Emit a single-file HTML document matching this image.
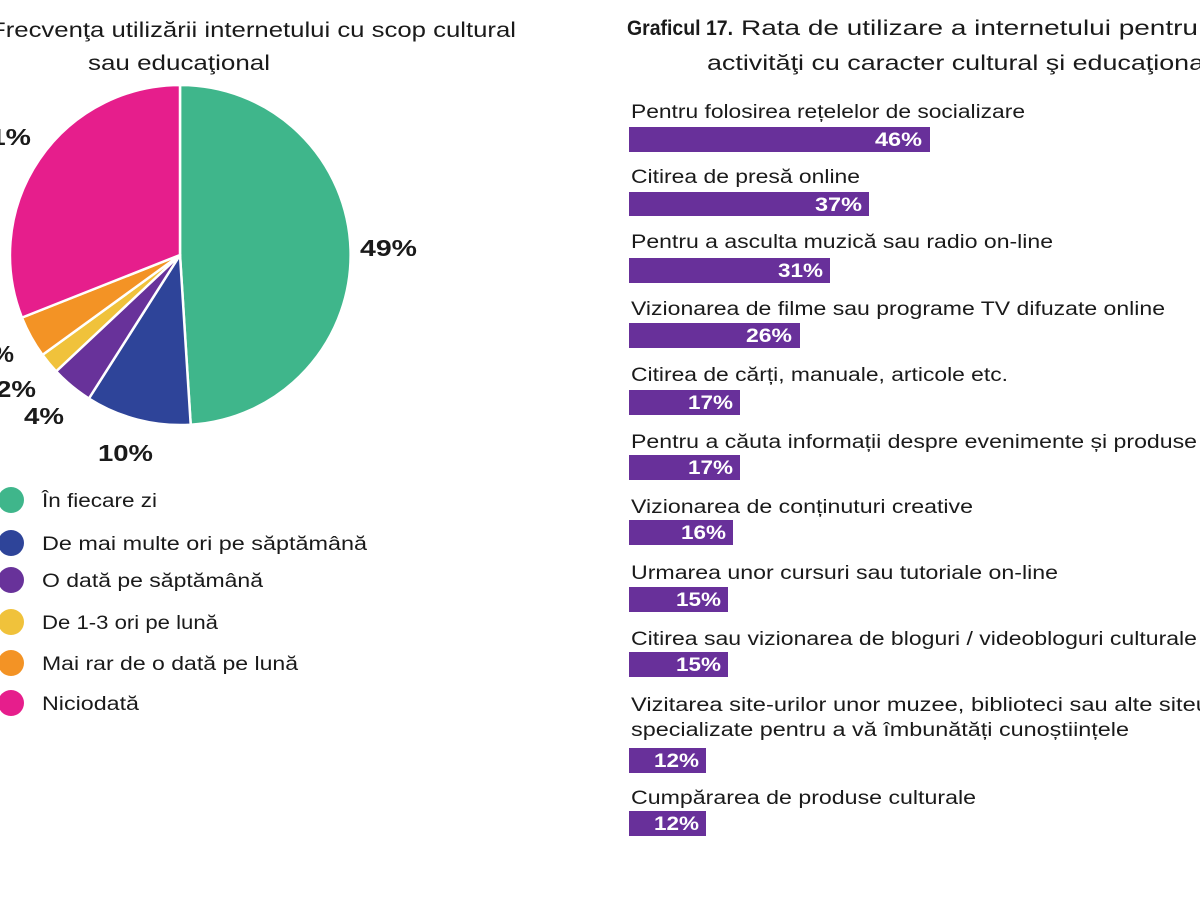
<!DOCTYPE html>
<html><head><meta charset="utf-8"><style>
html,body{margin:0;padding:0;background:#fff;width:1200px;height:900px;overflow:hidden}
svg text{font-family:"Liberation Sans",sans-serif}
.d{fill:#1a1a1a}
.w{fill:#fff}
</style></head><body>
<svg width="1200" height="900" viewBox="0 0 1200 900" xmlns="http://www.w3.org/2000/svg">
<text class="d" x="-10" y="37" font-size="21" textLength="526" lengthAdjust="spacingAndGlyphs">Frecvenţa utilizării internetului cu scop cultural</text>
<text class="d" x="88" y="70" font-size="21" textLength="182" lengthAdjust="spacingAndGlyphs">sau educaţional</text>
<g stroke="#fff" stroke-width="2.5" stroke-linejoin="round">
<path d="M180,255 L180,85 A170,170 0 0 1 190.7,424.7 Z" fill="#3fb68b"/>
<path d="M180,255 L190.7,424.7 A170,170 0 0 1 88.9,398.5 Z" fill="#2e4499"/>
<path d="M180,255 L88.9,398.5 A170,170 0 0 1 56.1,371.4 Z" fill="#68329a"/>
<path d="M180,255 L56.1,371.4 A170,170 0 0 1 42.5,354.9 Z" fill="#f0c23b"/>
<path d="M180,255 L42.5,354.9 A170,170 0 0 1 21.9,317.6 Z" fill="#f39325"/>
<path d="M180,255 L21.9,317.6 A170,170 0 0 1 180,85 Z" fill="#e61e8c"/>
</g>
<g font-size="23" font-weight="bold" class="d">
<text class="d" x="360" y="256" textLength="57" lengthAdjust="spacingAndGlyphs">49%</text>
<text class="d" x="98" y="461" textLength="55" lengthAdjust="spacingAndGlyphs">10%</text>
<text class="d" x="24" y="424" textLength="40" lengthAdjust="spacingAndGlyphs">4%</text>
<text class="d" x="-4" y="397" textLength="40" lengthAdjust="spacingAndGlyphs">2%</text>
<text class="d" x="-8" y="362" textLength="22" lengthAdjust="spacingAndGlyphs">%</text>
<text class="d" x="-26" y="145" textLength="57" lengthAdjust="spacingAndGlyphs">31%</text>
</g>
<g font-size="19" class="d">
<circle cx="11" cy="500" r="13" fill="#3fb68b"/><text class="d" x="42" y="507" textLength="115" lengthAdjust="spacingAndGlyphs">În fiecare zi</text>
<circle cx="11" cy="543" r="13" fill="#2e4499"/><text class="d" x="42" y="550" textLength="325" lengthAdjust="spacingAndGlyphs">De mai multe ori pe săptămână</text>
<circle cx="11" cy="580" r="13" fill="#68329a"/><text class="d" x="42" y="587" textLength="221" lengthAdjust="spacingAndGlyphs">O dată pe săptămână</text>
<circle cx="11" cy="622" r="13" fill="#f0c23b"/><text class="d" x="42" y="629" textLength="176" lengthAdjust="spacingAndGlyphs">De 1-3 ori pe lună</text>
<circle cx="11" cy="663" r="13" fill="#f39325"/><text class="d" x="42" y="670" textLength="256" lengthAdjust="spacingAndGlyphs">Mai rar de o dată pe lună</text>
<circle cx="11" cy="703" r="13" fill="#e61e8c"/><text class="d" x="42" y="710" textLength="97" lengthAdjust="spacingAndGlyphs">Niciodată</text>
</g>
<text class="d" x="627" y="35" font-size="21" font-weight="bold" textLength="106" lengthAdjust="spacingAndGlyphs">Graficul 17.</text>
<text class="d" x="741" y="35" font-size="21" textLength="457" lengthAdjust="spacingAndGlyphs">Rata de utilizare a internetului pentru</text>
<text class="d" x="707" y="70" font-size="21" textLength="503" lengthAdjust="spacingAndGlyphs">activităţi cu caracter cultural şi educaţional</text>
<g font-size="19">
<text class="d" x="631" y="118" textLength="394" lengthAdjust="spacingAndGlyphs">Pentru folosirea rețelelor de socializare</text>
<text class="d" x="631" y="183" textLength="229" lengthAdjust="spacingAndGlyphs">Citirea de presă online</text>
<text class="d" x="631" y="248" textLength="422" lengthAdjust="spacingAndGlyphs">Pentru a asculta muzică sau radio on-line</text>
<text class="d" x="631" y="315" textLength="534" lengthAdjust="spacingAndGlyphs">Vizionarea de filme sau programe TV difuzate online</text>
<text class="d" x="631" y="381" textLength="377" lengthAdjust="spacingAndGlyphs">Citirea de cărți, manuale, articole etc.</text>
<text class="d" x="631" y="448" textLength="566" lengthAdjust="spacingAndGlyphs">Pentru a căuta informații despre evenimente și produse</text>
<text class="d" x="631" y="513" textLength="342" lengthAdjust="spacingAndGlyphs">Vizionarea de conținuturi creative</text>
<text class="d" x="631" y="579" textLength="427" lengthAdjust="spacingAndGlyphs">Urmarea unor cursuri sau tutoriale on-line</text>
<text class="d" x="631" y="645" textLength="566" lengthAdjust="spacingAndGlyphs">Citirea sau vizionarea de bloguri / videobloguri culturale</text>
<text class="d" x="631" y="711" textLength="591" lengthAdjust="spacingAndGlyphs">Vizitarea site-urilor unor muzee, biblioteci sau alte siteuri</text>
<text class="d" x="631" y="736" textLength="498" lengthAdjust="spacingAndGlyphs">specializate pentru a vă îmbunătăți cunoștiințele</text>
<text class="d" x="631" y="804" textLength="345" lengthAdjust="spacingAndGlyphs">Cumpărarea de produse culturale</text>
</g>
<g fill="#68309a">
<rect x="629" y="127" width="301" height="25"/>
<rect x="629" y="192" width="240" height="24"/>
<rect x="629" y="258" width="201" height="25"/>
<rect x="629" y="323" width="171" height="25"/>
<rect x="629" y="390" width="111" height="25"/>
<rect x="629" y="455" width="111" height="25"/>
<rect x="629" y="520" width="104" height="25"/>
<rect x="629" y="587" width="99" height="25"/>
<rect x="629" y="652" width="99" height="25"/>
<rect x="629" y="748" width="77" height="25"/>
<rect x="629" y="811" width="77" height="25"/>
</g>
<g font-size="19" font-weight="bold">
<text class="w" x="875" y="146" textLength="47" lengthAdjust="spacingAndGlyphs">46%</text>
<text class="w" x="815" y="211" textLength="47" lengthAdjust="spacingAndGlyphs">37%</text>
<text class="w" x="778" y="277" textLength="45" lengthAdjust="spacingAndGlyphs">31%</text>
<text class="w" x="746" y="342" textLength="46" lengthAdjust="spacingAndGlyphs">26%</text>
<text class="w" x="688" y="409" textLength="45" lengthAdjust="spacingAndGlyphs">17%</text>
<text class="w" x="688" y="474" textLength="45" lengthAdjust="spacingAndGlyphs">17%</text>
<text class="w" x="681" y="539" textLength="45" lengthAdjust="spacingAndGlyphs">16%</text>
<text class="w" x="676" y="606" textLength="45" lengthAdjust="spacingAndGlyphs">15%</text>
<text class="w" x="676" y="671" textLength="45" lengthAdjust="spacingAndGlyphs">15%</text>
<text class="w" x="654" y="767" textLength="45" lengthAdjust="spacingAndGlyphs">12%</text>
<text class="w" x="654" y="830" textLength="45" lengthAdjust="spacingAndGlyphs">12%</text>
</g>
</svg>
</body></html>
